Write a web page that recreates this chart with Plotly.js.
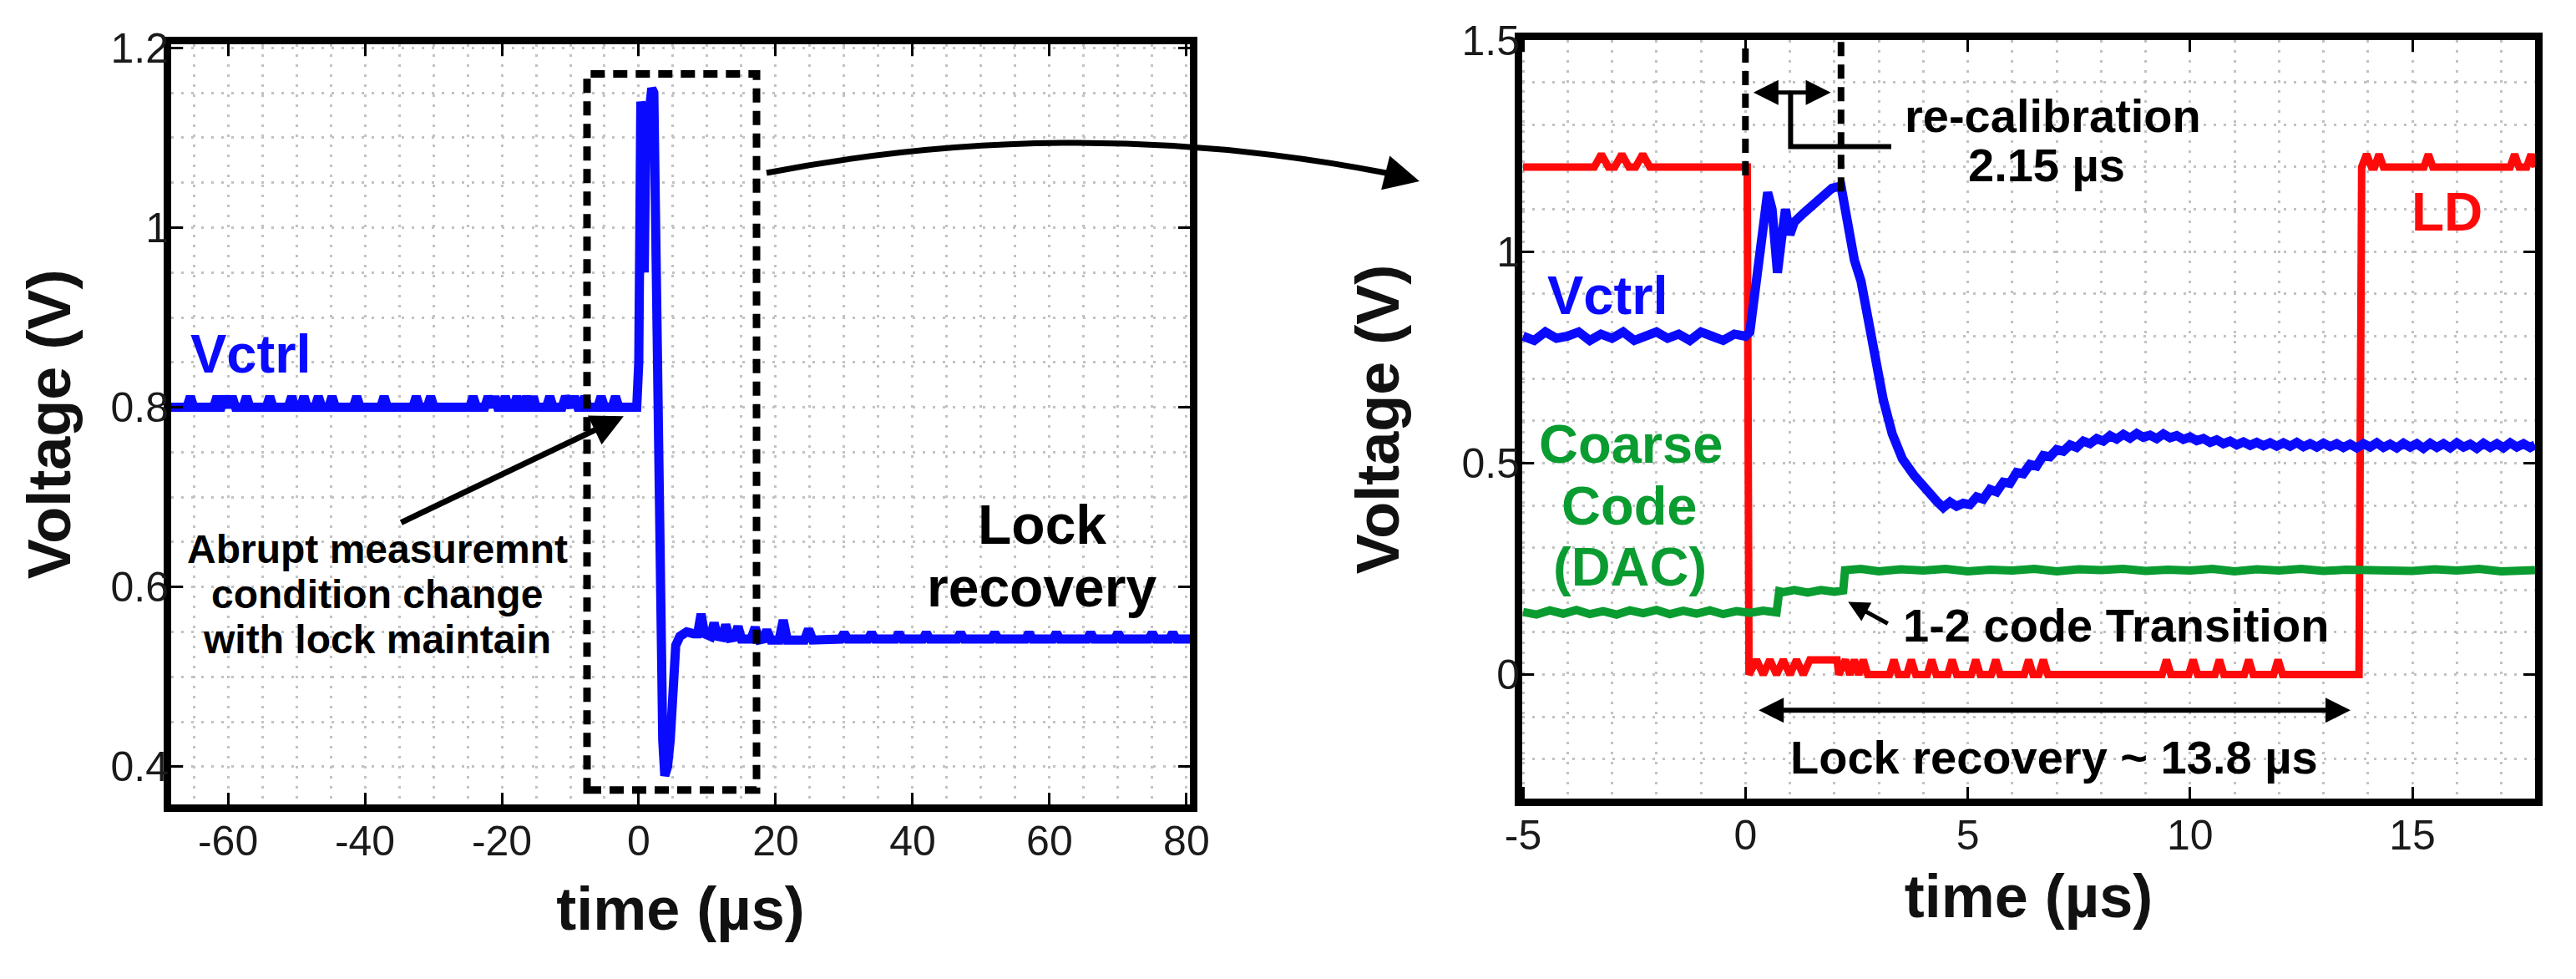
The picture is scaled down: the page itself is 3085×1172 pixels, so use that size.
<!DOCTYPE html>
<html>
<head>
<meta charset="utf-8">
<script src="https://cdn.plot.ly/plotly-3.0.1.min.js"></script>
<style>
  html, body { margin: 0; padding: 0; background: #ffffff; }
  #chart { width: 3085px; height: 1172px; }
</style>
</head>
<body>
<div id="chart"></div>
<script>
// ---------------- DATA ----------------
// Left panel: Vctrl over the long time window (time in us, voltage in V)
const leftTime = [
  -68.3,
  -66.0, -65.5, -65.0,
  -62.1, -61.6, -61.1,
  -61.0, -60.5, -60.0,
  -59.9, -59.4, -58.9,
  -57.8, -57.3, -56.8,
  -54.4, -53.9, -53.4,
  -51.2, -50.7, -50.2,
  -49.4, -48.9, -48.4,
  -47.3, -46.8, -46.3,
  -45.3, -44.8, -44.3,
  -41.7, -41.2, -40.7,
  -37.7, -37.2, -36.7,
  -33.0, -32.5, -32.0,
  -30.9, -30.4, -29.9,
  -24.7, -24.2, -23.7,
  -22.5, -22.0, -21.5,
  -21.4, -21.0, -20.6,
  -20.0, -19.5, -19.0,
  -18.3, -17.8, -17.3,
  -16.9, -16.4, -15.9,
  -15.8, -15.4, -15.0,
  -13.5, -13.0, -12.5,
  -11.2, -10.7, -10.2,
  -9.9, -9.4, -8.9,
  -8.4, -7.9, -7.4,
  -6.0, -5.5, -5.0,
  -3.9, -3.4, -2.9,
  -0.3,
  0.0, 0.3, 0.55, 0.8, 1.0, 1.4, 1.9, 2.2, 2.5, 2.9,
  3.2, 3.5, 3.8, 4.2, 4.6, 5.0, 5.4, 6.0, 7.0, 8.0,
  8.6, 9.1, 9.6, 10.5, 11.0, 11.5, 12.2, 12.7, 13.3, 14.0,
  14.5, 15.0, 16.4, 17.0, 17.6, 18.2, 18.7, 19.3, 20.5, 21.1,
  21.7, 24.2, 24.8, 25.4,
  29.5, 30.0, 30.5,
  33.5, 34.0, 34.5,
  37.5, 38.0, 38.5,
  41.5, 42.0, 42.5,
  46.5, 47.0, 47.5,
  51.5, 52.0, 52.5,
  56.5, 57.0, 57.5,
  60.5, 61.0, 61.5,
  65.5, 66.0, 66.5,
  69.5, 70.0, 70.5,
  74.5, 75.0, 75.5,
  77.5, 78.0, 78.5,
  80.5
];
const leftVctrl = [
  0.800,
  0.800, 0.812, 0.800,
  0.800, 0.812, 0.800,
  0.800, 0.812, 0.800,
  0.800, 0.812, 0.800,
  0.800, 0.812, 0.800,
  0.800, 0.812, 0.800,
  0.800, 0.812, 0.800,
  0.800, 0.812, 0.800,
  0.800, 0.812, 0.800,
  0.800, 0.812, 0.800,
  0.800, 0.812, 0.800,
  0.800, 0.812, 0.800,
  0.800, 0.812, 0.800,
  0.800, 0.812, 0.800,
  0.800, 0.812, 0.800,
  0.800, 0.812, 0.800,
  0.800, 0.812, 0.800,
  0.800, 0.812, 0.800,
  0.800, 0.812, 0.800,
  0.800, 0.812, 0.800,
  0.800, 0.812, 0.800,
  0.800, 0.812, 0.800,
  0.800, 0.812, 0.800,
  0.800, 0.812, 0.800,
  0.800, 0.812, 0.800,
  0.800, 0.812, 0.800,
  0.800, 0.812, 0.800,
  0.800,
  0.85, 1.14, 1.13, 0.95, 1.08, 1.12, 1.155, 1.15, 0.98, 0.70,
  0.55, 0.43, 0.39, 0.40, 0.43, 0.50, 0.535, 0.545, 0.55, 0.548,
  0.548, 0.57, 0.548, 0.545, 0.56, 0.545, 0.544, 0.558, 0.543, 0.544,
  0.556, 0.542, 0.542, 0.555, 0.541, 0.542, 0.552, 0.541, 0.541, 0.563,
  0.541, 0.541, 0.553, 0.541,
  0.542, 0.549, 0.542,
  0.542, 0.549, 0.542,
  0.542, 0.549, 0.542,
  0.542, 0.549, 0.542,
  0.542, 0.549, 0.542,
  0.542, 0.549, 0.542,
  0.542, 0.549, 0.542,
  0.542, 0.549, 0.542,
  0.542, 0.549, 0.542,
  0.542, 0.549, 0.542,
  0.542, 0.549, 0.542,
  0.542, 0.549, 0.542,
  0.542
];

// Right panel: zoomed window
const rightTime = [
  -5.0, -4.75, -4.5, -4.25, -4.0, -3.75, -3.5, -3.25, -3.0, -2.75,
  -2.5, -2.25, -2.0, -1.75, -1.5, -1.25, -1.0, -0.75, -0.5, -0.25, 0.0,
  0.1, 0.2, 0.35, 0.5, 0.6, 0.72, 0.8, 0.9, 1.0, 1.1, 1.3, 1.55, 1.8, 1.95, 2.15,
  2.3, 2.45, 2.6, 2.87, 3.1, 3.3, 3.53, 3.8, 4.05,
  4.3, 4.45, 4.6, 4.75, 4.9, 5.05, 5.2, 5.35, 5.5, 5.65,
  5.8, 5.95, 6.1, 6.25, 6.4, 6.55, 6.7, 6.85, 7.0, 7.15,
  7.3, 7.45, 7.6, 7.75, 7.9, 8.05, 8.2, 8.35, 8.5, 8.65,
  8.8, 8.95, 9.1, 9.25, 9.4, 9.55, 9.7, 9.85, 10.0, 10.15,
  10.3, 10.45, 10.6, 10.75, 10.9, 11.05, 11.2, 11.35, 11.5, 11.65,
  11.8, 11.95, 12.1, 12.25, 12.4, 12.55, 12.7, 12.85, 13.0, 13.15,
  13.3, 13.45, 13.6, 13.75, 13.9, 14.05, 14.2, 14.35, 14.5, 14.65,
  14.8, 14.95, 15.1, 15.25, 15.4, 15.55, 15.7, 15.85, 16.0, 16.15,
  16.3, 16.45, 16.6, 16.75, 16.9, 17.05, 17.2, 17.35, 17.5, 17.65,
  17.76
];
const rightVctrl = [
  0.80, 0.79, 0.81, 0.795, 0.80, 0.81, 0.79, 0.805, 0.795, 0.81,
  0.79, 0.80, 0.81, 0.795, 0.805, 0.79, 0.81, 0.80, 0.79, 0.805, 0.80,
  0.81, 0.90, 1.05, 1.14, 1.10, 0.95, 1.02, 1.10, 1.04, 1.07, 1.09, 1.115, 1.14, 1.15, 1.155,
  1.06, 0.98, 0.93, 0.77, 0.65, 0.57, 0.51, 0.47, 0.436,
  0.41, 0.395, 0.408, 0.398, 0.405, 0.402, 0.42, 0.415, 0.438, 0.432,
  0.455, 0.452, 0.478, 0.475, 0.497, 0.493, 0.518, 0.515, 0.532, 0.528,
  0.543, 0.537, 0.552, 0.546, 0.558, 0.552, 0.565, 0.557, 0.568, 0.559,
  0.570, 0.561, 0.566, 0.558, 0.569, 0.560, 0.565, 0.556, 0.562, 0.553,
  0.558, 0.549, 0.555, 0.546, 0.552, 0.543, 0.550, 0.542, 0.549, 0.541,
  0.548, 0.540, 0.548, 0.540, 0.549, 0.539, 0.546, 0.538, 0.547, 0.539,
  0.546, 0.537, 0.545, 0.536, 0.546, 0.538, 0.548, 0.537, 0.545, 0.536,
  0.547, 0.538, 0.546, 0.535, 0.547, 0.537, 0.546, 0.536, 0.548, 0.538,
  0.545, 0.535, 0.547, 0.537, 0.546, 0.536, 0.548, 0.538, 0.546, 0.537,
  0.543
];

// LD (lock detect) signal
const ldTime = [
  -5.0, -3.4, -3.24, -3.08, -2.94, -2.78, -2.62, -2.47, -2.31, -2.15,
  0.04, 0.08, 0.25, 0.4, 0.55, 0.7, 0.85, 1.0, 1.15, 1.3,
  1.45, 2.06, 2.1, 2.25, 2.35, 2.45, 2.55, 2.65, 2.75,
  3.24, 3.34, 3.44, 3.63, 3.73, 3.83, 4.09, 4.19, 4.29,
  4.55, 4.65, 4.75, 5.08, 5.18, 5.28, 5.53, 5.63, 5.73,
  6.27, 6.37, 6.47, 6.6, 6.7, 6.8,
  9.37, 9.47, 9.57, 9.97, 10.07, 10.17, 10.56, 10.66, 10.76,
  11.22, 11.32, 11.42, 11.88, 11.98, 12.08,
  13.80, 13.86, 13.97, 14.08, 14.15, 14.25, 14.35,
  15.26, 15.36, 15.46, 17.2, 17.3, 17.4, 17.57, 17.67, 17.76
];
const ldLevel = [
  1.2, 1.2, 1.23, 1.2, 1.2, 1.23, 1.2, 1.2, 1.23, 1.2,
  1.2, 0.0, 0.035, 0.0, 0.035, 0.0, 0.035, 0.0, 0.035, 0.0,
  0.035, 0.035, 0.0, 0.035, 0.0, 0.035, 0.0, 0.035, 0.0,
  0.0, 0.035, 0.0, 0.0, 0.035, 0.0, 0.0, 0.035, 0.0,
  0.0, 0.035, 0.0, 0.0, 0.035, 0.0, 0.0, 0.035, 0.0,
  0.0, 0.035, 0.0, 0.0, 0.035, 0.0,
  0.0, 0.035, 0.0, 0.0, 0.035, 0.0, 0.0, 0.035, 0.0,
  0.0, 0.035, 0.0, 0.0, 0.035, 0.0,
  0.0, 1.2, 1.23, 1.2, 1.2, 1.23, 1.2,
  1.2, 1.23, 1.2, 1.2, 1.23, 1.2, 1.2, 1.23, 1.2
];

// Coarse code (DAC) signal
const coarseTime = [
  -5.0, -4.7, -4.4, -4.1, -3.8, -3.5, -3.2, -2.9, -2.6, -2.3,
  -2.0, -1.7, -1.4, -1.1, -0.8, -0.5, -0.2, 0.1, 0.4, 0.7,
  0.76, 0.85, 1.1, 1.4, 1.7, 2.0, 2.2,
  2.24, 2.6,
  3.0, 3.5, 4.0, 4.5, 5.0, 5.5, 6.0, 6.5, 7.0, 7.5,
  8.0, 8.5, 9.0, 9.5, 10.0, 10.5, 11.0, 11.5, 12.0, 12.5,
  13.0, 13.5, 14.0, 14.5, 15.0, 15.5, 16.0, 16.5, 17.0,
  17.76
];
const coarseLevel = [
  0.148, 0.142, 0.152, 0.144, 0.153, 0.143, 0.150, 0.142, 0.152, 0.145,
  0.153, 0.143, 0.151, 0.144, 0.152, 0.143, 0.150, 0.146, 0.151, 0.147,
  0.197, 0.195, 0.200, 0.194, 0.200, 0.196, 0.199,
  0.247, 0.250,
  0.244, 0.249, 0.246, 0.250, 0.244, 0.248, 0.246, 0.250, 0.244, 0.249,
  0.247, 0.250, 0.245, 0.248, 0.246, 0.250, 0.244, 0.249, 0.246, 0.250,
  0.245, 0.248, 0.247, 0.250, 0.245, 0.249, 0.246, 0.250, 0.244,
  0.247
];

// Tick values and labels (hyphen minus, as in the reference)
const leftXTickVals = [-60, -40, -20, 0, 20, 40, 60, 80];
const leftXTickText = ['-60', '-40', '-20', '0', '20', '40', '60', '80'];
const rightXTickVals = [-5, 0, 5, 10, 15];
const rightXTickText = ['-5', '0', '5', '10', '15'];
const leftXMinor = 5, leftYTick = 0.2, leftYMinor = 0.05;
const rightXMinor = 1, rightYTick = 0.5, rightYMinor = 0.1;

// ---------------- STYLE ----------------
const BLUE = '#0a0aff', RED = '#ff0a0a', GREEN = '#0a9c30';
const BOLD = 'Liberation Sans, Arial, sans-serif';
const TICKFONT = 'Liberation Sans, Arial, sans-serif';
const GRID = {showgrid: true, gridcolor: '#c2c2c2', gridwidth: 3, griddash: '3px,9px'};

function axisBase(extra) {
  return Object.assign({
    showline: true, linecolor: '#000', linewidth: 9, mirror: 'ticks',
    ticks: 'inside', ticklen: 14, tickwidth: 3, tickcolor: '#000',
    zeroline: false,
    tickfont: {family: TICKFONT, size: 50, color: '#1a1a1a'},
    fixedrange: true
  }, GRID, extra);
}
const titleFont = {family: BOLD, size: 72, color: '#111', weight: 'bold'};

const traces = [
  {x: leftTime, y: leftVctrl, xaxis: 'x', yaxis: 'y', mode: 'lines', name: 'Vctrl',
   line: {color: BLUE, width: 11}},
  {x: ldTime, y: ldLevel, xaxis: 'x2', yaxis: 'y2', mode: 'lines', name: 'LD',
   line: {color: RED, width: 9}},
  {x: coarseTime, y: coarseLevel, xaxis: 'x2', yaxis: 'y2', mode: 'lines', name: 'Coarse Code (DAC)',
   line: {color: GREEN, width: 10}},
  {x: rightTime, y: rightVctrl, xaxis: 'x2', yaxis: 'y2', mode: 'lines', name: 'Vctrl',
   line: {color: BLUE, width: 11}}
];

function txt(xref, yref, x, y, text, size, color, extra) {
  return Object.assign({xref: xref, yref: yref, x: x, y: y, text: text, showarrow: false,
    xanchor: 'center', yanchor: 'middle',
    font: {family: BOLD, size: size, color: color, weight: 'bold'}}, extra || {});
}

const annotations = [
  // left panel texts
  txt('x', 'y', -56.6, 0.860, 'Vctrl', 65, BLUE),
  txt('x', 'y', -38.2, 0.642, 'Abrupt measuremnt', 48, '#000'),
  txt('x', 'y', -38.2, 0.592, 'condition change', 48, '#000'),
  txt('x', 'y', -38.2, 0.542, 'with lock maintain', 48, '#000'),
  txt('x', 'y', 58.9, 0.669, 'Lock', 66, '#000'),
  txt('x', 'y', 58.9, 0.600, 'recovery', 66, '#000'),
  // left arrow
  {xref: 'x', yref: 'y', axref: 'x', ayref: 'y', x: -2.2, y: 0.790, ax: -34.9, ay: 0.671,
   text: '', showarrow: true, arrowhead: 2, arrowwidth: 7, arrowsize: 1.1, arrowcolor: '#000'},
  // right panel texts
  txt('x2', 'y2', -3.09, 0.896, 'Vctrl', 65, BLUE),
  txt('x2', 'y2', 15.78, 1.093, 'LD', 64, RED),
  txt('x2', 'y2', -2.58, 0.546, 'Coarse', 65, GREEN),
  txt('x2', 'y2', -2.60, 0.400, 'Code', 65, GREEN),
  txt('x2', 'y2', -2.60, 0.254, '(DAC)', 65, GREEN),
  txt('x2', 'y2', 6.92, 1.321, 're-calibration', 56, '#000'),
  txt('x2', 'y2', 6.77, 1.204, '2.15 µs', 56, '#000'),
  txt('x2', 'y2', 8.34, 0.117, '1-2 code Transition', 56, '#000'),
  txt('x2', 'y2', 6.94, -0.196, 'Lock recovery ~ 13.8 µs', 56, '#000'),
  // right arrows
  {xref: 'x2', yref: 'y2', axref: 'x2', ayref: 'y2', x: 1.92, y: 1.376, ax: 0.15, ay: 1.376,
   text: '', showarrow: true, arrowside: 'end+start', arrowhead: 2, startarrowhead: 2,
   arrowwidth: 5, arrowsize: 1.2, startarrowsize: 1.2, arrowcolor: '#000'},
  {xref: 'x2', yref: 'y2', axref: 'x2', ayref: 'y2', x: 13.61, y: -0.084, ax: 0.27, ay: -0.084,
   text: '', showarrow: true, arrowside: 'end+start', arrowhead: 2, startarrowhead: 2,
   arrowwidth: 6, arrowsize: 1.0, startarrowsize: 1.0, arrowcolor: '#000'},
  {xref: 'x2', yref: 'y2', axref: 'x2', ayref: 'y2', x: 2.31, y: 0.172, ax: 3.23, ay: 0.119,
   text: '', showarrow: true, arrowhead: 2, arrowwidth: 5, arrowsize: 1.0, arrowcolor: '#000'},
  // head of the curved connector arrow
  {xref: 'paper', yref: 'paper', x: 0.55105, y: 0.81485, ax: -40, ay: -10,
   text: '', showarrow: true, arrowhead: 2, arrowwidth: 7, arrowsize: 1.2, arrowcolor: '#000'}
];

const shapes = [
  // dashed box on the left panel
  {type: 'rect', xref: 'x', yref: 'y', x0: -7.56, x1: 17.2, y0: 0.374, y1: 1.171,
   line: {color: '#000', width: 9, dash: '17px,10px'}, fillcolor: 'rgba(0,0,0,0)'},
  // dashed markers of the re-calibration window
  {type: 'line', xref: 'x2', yref: 'y2', x0: 0, x1: 0, y0: 1.18, y1: 1.5,
   line: {color: '#000', width: 8, dash: '17px,10px'}},
  {type: 'line', xref: 'x2', yref: 'y2', x0: 2.15, x1: 2.15, y0: 1.142, y1: 1.5,
   line: {color: '#000', width: 8, dash: '17px,10px'}},
  // bracket to the label
  {type: 'path', xref: 'x2', yref: 'y2', path: 'M 1.016,1.376 L 1.016,1.248 L 3.28,1.248',
   line: {color: '#000', width: 6}},
  // curved connector between the panels
  {type: 'path', xref: 'paper', yref: 'paper',
   path: 'M 0.29757,0.82338 Q 0.41815,0.88481 0.53806,0.82338',
   line: {color: '#000', width: 7}}
];

const layout = {
  width: 3085, height: 1172,
  margin: {l: 0, r: 0, t: 0, b: 0},
  paper_bgcolor: '#ffffff', plot_bgcolor: '#ffffff',
  showlegend: false,
  xaxis: axisBase({domain: [0.066451, 0.461912], range: [-68.3, 80.5], anchor: 'y',
    tickmode: 'array', tickvals: leftXTickVals, ticktext: leftXTickText, ticklabelstandoff: -8,
    minor: Object.assign({tickmode: 'linear', tick0: 0, dtick: leftXMinor, ticks: ''}, GRID),
    title: {text: 'time (µs)', font: titleFont, standoff: 32}}),
  yaxis: axisBase({domain: [0.178328, 0.954778], range: [0.358, 1.204], anchor: 'x',
    tick0: 0, dtick: leftYTick, ticklabelstandoff: -16,
    minor: Object.assign({dtick: leftYMinor, ticks: ''}, GRID),
    title: {text: 'Voltage (V)', font: titleFont, standoff: 28}}),
  xaxis2: axisBase({domain: [0.590924, 0.984117], range: [-5.02, 17.76], anchor: 'y2',
    tickmode: 'array', tickvals: rightXTickVals, ticktext: rightXTickText, ticklabelstandoff: -8,
    minor: Object.assign({tickmode: 'linear', tick0: 0, dtick: rightXMinor, ticks: ''}, GRID),
    title: {text: 'time (µs)', font: titleFont, standoff: 24}}),
  yaxis2: axisBase({domain: [0.1843, 0.959044], range: [-0.293, 1.5], anchor: 'x2',
    tick0: 0, dtick: rightYTick, ticklabelstandoff: -16,
    minor: Object.assign({dtick: rightYMinor, ticks: ''}, GRID),
    title: {text: 'Voltage (V)', font: titleFont, standoff: 55}}),
  annotations: annotations,
  shapes: shapes
};

Plotly.newPlot('chart', traces, layout, {staticPlot: true, displayModeBar: false});
</script>
</body>
</html>
